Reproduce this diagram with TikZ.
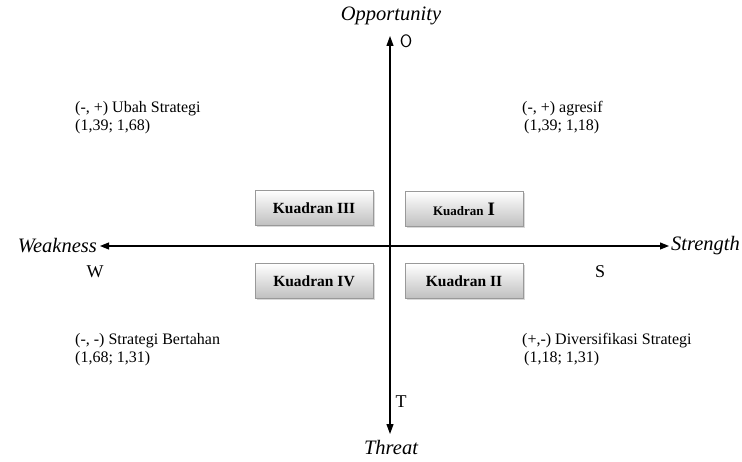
\documentclass[tikz,border=0pt]{standalone}
\usepackage{fontspec}
\setmainfont{Liberation Serif}
\usetikzlibrary{arrows.meta,shadows}
\begin{document}
\begin{tikzpicture}[x=1pt,y=-1pt,
  lbl/.style={font=\fontsize{16}{18}\selectfont, align=left, inner sep=0pt, anchor=north west},
  axlbl/.style={font=\fontsize{20.5}{23}\selectfont\itshape, inner sep=0pt},
  letter/.style={font=\fontsize{18}{20}\selectfont, inner sep=0pt},
  kbox/.style={draw=gray!80, line width=0.6pt, top color=white, bottom color=gray!50,
    minimum width=118pt, minimum height=35pt, inner sep=0pt,
    font=\fontsize{15.5}{17}\selectfont\bfseries,
    drop shadow={shadow xshift=2pt, shadow yshift=-2pt, fill=gray!50, opacity=0.6}},
  ax/.style={line width=1.1pt, {Triangle[length=9pt,width=7pt]}-{Triangle[length=9pt,width=7pt]}},
  axv/.style={line width=1.1pt, -{Triangle[length=10pt,width=7pt]}}]
\useasboundingbox (0,0) rectangle (742,462);
% axes end points
\coordinate (C) at (390,246);
\coordinate (Otip) at (390,36);
\coordinate (Ttip) at (390,434);
\coordinate (Wtip) at (100,246);
\coordinate (Stip) at (669,246);
\draw[axv] (C) -- (Otip);
\draw[axv] (C) -- (Ttip);
\draw[ax] (Wtip) -- (Stip);
% axis labels
\node[axlbl] (opp) at (391,16) {Opportunity};
\node[axlbl] (thr) at (391,447) {Threat};
\node[axlbl, anchor=east] (weak) at (97,246) {Weakness};
\node[axlbl, anchor=east] (str) at (740,246) {Strength};
\node[letter, font=\fontsize{18}{20}\selectfont\sffamily] (O) at (406,41) {O};
\node[letter] (T) at (401,402) {T};
\node[letter] (Wl) at (95,272) {W};
\node[letter] (Sl) at (600,272) {S};
% quadrant boxes
\node[kbox] (k3) at (314,208) {Kuadran III};
\node[kbox] (k1) at (464,209) {{\fontsize{13}{15}\selectfont Kuadran} {\fontsize{19}{20}\selectfont I}};
\node[kbox] (k4) at (314,281) {Kuadran IV};
\node[kbox] (k2) at (464,281) {Kuadran II};
% strategy texts
\node[lbl] (tl) at (75,101) {(-, +) Ubah Strategi\\(1,39; 1,68)};
\node[lbl] (tr) at (522,101) {(-, +) agresif\\\hspace*{2pt}(1,39; 1,18)};
\node[lbl] (bl) at (75,333) {(-, -) Strategi Bertahan\\(1,68; 1,31)};
\node[lbl] (br) at (522,333) {(+,-) Diversifikasi Strategi\\\hspace*{2pt}(1,18; 1,31)};
\end{tikzpicture}
\end{document}
